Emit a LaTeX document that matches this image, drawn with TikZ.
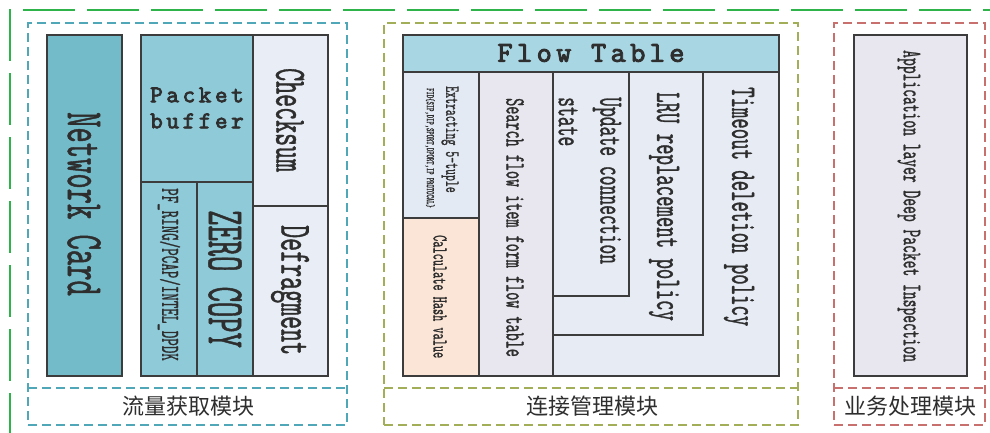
\documentclass[tikz,border=0pt]{standalone}
\usepackage{fontspec}
\newfontfamily\cmono{lmmono10-regular}[Extension=.otf,FakeStretch=0.55,FakeBold=0.8]
\newfontfamily\bmono{lmmono10-regular}[Extension=.otf,FakeBold=3,LetterSpace=15]
\newfontfamily\cjk{Noto Sans CJK SC}
\definecolor{bord}{HTML}{3C3C3C}
\definecolor{txt}{HTML}{2E2E2E}
\definecolor{ncf}{HTML}{74BBC9}
\definecolor{pbf}{HTML}{8ECAD8}
\definecolor{ltf}{HTML}{E9EEF6}
\definecolor{ftf}{HTML}{A9D6E3}
\definecolor{exf}{HTML}{E3EAF4}
\definecolor{chf}{HTML}{FBE5D6}
\definecolor{sff}{HTML}{E8E7EF}
\definecolor{upf}{HTML}{E6EBF4}
\definecolor{apf}{HTML}{E8E6EE}
\definecolor{gfr}{HTML}{2DB34A}
\definecolor{mblue}{HTML}{4FA7B8}
\definecolor{molive}{HTML}{A3AE58}
\definecolor{mred}{HTML}{C8706D}
\tikzset{
  box/.style={draw=bord, line width=1.1pt, inner sep=0pt, outer sep=0pt, anchor=north west},
  vt/.style={rotate=-90, anchor=west, inner sep=0pt, text=txt},
  modbox/.style={line width=1.8pt, dash pattern=on 9pt off 5pt, inner sep=0pt, outer sep=0pt, anchor=north west},
  sep/.style={line width=1.8pt, dash pattern=on 9pt off 5pt},
  lab/.style={font=\cjk\fontsize{22}{22}\selectfont, text=txt, inner sep=0pt},
}
\newcommand{\vfs}[1]{\cmono\fontsize{#1}{#1}\selectfont}
\begin{document}
\begin{tikzpicture}[x=1pt,y=-1pt]
\useasboundingbox (0,0) rectangle (990,433);
% outer green frame
\draw[gfr, line width=1.8pt, dash pattern=on 52pt off 12pt] (10,445) -- (10,10) -- (1000,10);

% module frames
\node[modbox, draw=mblue, minimum width=319, minimum height=402] (m1) at (28,23) {};
\draw[sep, mblue] (28,388) -- (347,388);
\node[lab] (l1) at (188,406) {流量获取模块};

\node[modbox, draw=molive, minimum width=414, minimum height=402] (m2) at (384,23) {};
\draw[sep, molive] (384,388) -- (798,388);
\node[lab] (l2) at (592,406) {连接管理模块};

\node[modbox, draw=mred, minimum width=151, minimum height=402] (m3) at (834,23) {};
\draw[sep, mred] (834,388) -- (985,388);
\node[lab] (l3) at (910,406) {业务处理模块};

% module 1 boxes
\node[box, fill=ncf, minimum width=75, minimum height=341] (nc) at (47,35) {};
\node[box, fill=pbf, minimum width=112, minimum height=147] (pb) at (141,35) {};
\node[box, fill=pbf, minimum width=56, minimum height=194] (pf) at (141,182) {};
\node[box, fill=pbf, minimum width=56, minimum height=194] (zc) at (197,182) {};
\node[box, fill=ltf, minimum width=75, minimum height=171] (cs) at (253,35) {};
\node[box, fill=ltf, minimum width=75, minimum height=170] (df) at (253,206) {};

\node[vt, font=\vfs{53}] (tnc) at (84,112) {Network Card};
\node[align=center, inner sep=0pt, text=txt, font=\bmono\fontsize{24}{26}\selectfont] (tpb) at (197,108) {Packet\\buffer};
\node[vt, font=\vfs{26}] (tpf) at (169,188) {PF\_RING/PCAP/INTEL\_DPDK};
\node[vt, font=\vfs{53}] (tzc) at (225,210) {ZERO COPY};
\node[vt, font=\vfs{45}] (tcs) at (290,68) {Checksum};
\node[vt, font=\vfs{45}] (tdf) at (290,225) {Defragment};

% module 2 boxes
\node[box, fill=ftf, minimum width=376, minimum height=37] (ft) at (403,35) {};
\node[inner sep=0pt, text=txt, font=\bmono\fontsize{29}{29}\selectfont] (tft) at (591,53) {Flow Table};
\node[box, fill=exf, minimum width=76, minimum height=146] (ex) at (403,72) {};
\node[box, fill=chf, minimum width=76, minimum height=158] (ch) at (403,218) {};
\node[box, fill=sff, minimum width=74, minimum height=304] (sf) at (479,72) {};
\node[box, fill=upf, minimum width=226, minimum height=304] (to) at (553,72) {};
\node[box, fill=upf, minimum width=150, minimum height=263] (lru) at (553,72) {};
\node[box, fill=upf, minimum width=76, minimum height=224] (up) at (553,72) {};

\node[vt, font=\vfs{20.5}] (tex) at (450,86) {Extracting 5-tuple};
\node[vt, font=\vfs{11.5}] (tfid) at (430,88) {FID\{SIP,DIP,SPORT,DPORT,IP PROTOCAL\}};
\node[vt, font=\vfs{21.3}] (tch) at (440,235) {Calculate Hash value};
\node[vt, font=\vfs{28}] (tsf) at (515,98) {Search flow item form flow table};
\node[vt, font=\vfs{34}] (tup) at (607,97) {Update connection};
\node[vt, font=\vfs{34}] (tst) at (568,97) {state};
\node[vt, font=\vfs{36}] (tlru) at (664,92) {LRU replacement policy};
\node[vt, font=\vfs{36}] (tto) at (739,87) {Timeout deletion policy};

% module 3
\node[box, fill=apf, minimum width=113, minimum height=341] (ap) at (854,35) {};
\node[vt, font=\vfs{27}] (tap) at (909,50) {Application layer Deep Packet Inspection};
\end{tikzpicture}
\end{document}
